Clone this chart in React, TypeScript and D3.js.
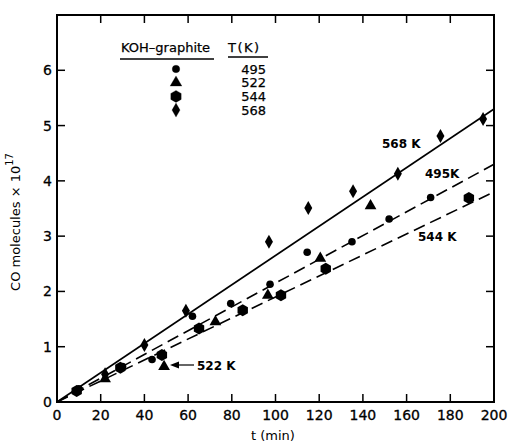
import * as d3 from "d3";
import React, { useRef, useEffect } from "react";

// 495 K (small dots)
const t495 = [10, 30, 43.5, 62, 79.5, 97.5, 114.5, 135, 152, 171];
const v495 = [0.24, 0.64, 0.77, 1.55, 1.78, 2.13, 2.71, 2.9, 3.31, 3.7];
// 522 K (triangles)
const t522 = [22, 49, 72.5, 96.5, 120.5, 143.5];
const v522 = [0.42, 0.64, 1.45, 1.93, 2.6, 3.55];
// 544 K (large hexagons)
const t544 = [9, 29, 48, 65, 85, 102.5, 123, 188.5];
const v544 = [0.2, 0.62, 0.85, 1.33, 1.66, 1.93, 2.41, 3.69];
// 568 K (diamonds)
const t568 = [22, 40, 59, 97, 115, 135.5, 156, 175.5, 195];
const v568 = [0.5, 1.03, 1.65, 2.9, 3.51, 3.81, 4.13, 4.81, 5.12];

// fitted lines: value at t = 200
const fitTemps = ["568", "495", "544"];
const fitEnd = [5.3, 4.3, 3.8];

const xTicks = [0, 20, 40, 60, 80, 100, 120, 140, 160, 180, 200];
const yTicks = [0, 1, 2, 3, 4, 5, 6];
const legendTemps = ["495", "522", "544", "568"];

const FONT = "'DejaVu Sans', sans-serif";

const App = () => {
    const ref = useRef<HTMLDivElement>(null);

    useEffect(() => {
        const width = 508;
        const height = 445;
        const left = 57, right = 494, top = 15, bottom = 402;

        const x = d3.scaleLinear().domain([0, 200]).range([left, right]);
        const y = d3.scaleLinear().domain([0, 7]).range([bottom, top]);

        const svg = d3.create("svg")
            .attr("width", width)
            .attr("height", height)
            .attr("viewBox", `0 0 ${width} ${height}`)
            .style("position", "absolute")
            .style("left", "0px")
            .style("top", "0px")
            .style("background", "#fff");

        // frame
        svg.append("rect")
            .attr("x", left).attr("y", top)
            .attr("width", right - left).attr("height", bottom - top)
            .attr("fill", "none").attr("stroke", "#000").attr("stroke-width", 2);

        // inward ticks, all four sides
        const tickLen = 8;
        const tk = svg.append("g").attr("stroke", "#000").attr("stroke-width", 1.5);
        xTicks.slice(1, -1).forEach(t => {
            tk.append("line").attr("x1", x(t)).attr("x2", x(t)).attr("y1", bottom).attr("y2", bottom - tickLen);
            tk.append("line").attr("x1", x(t)).attr("x2", x(t)).attr("y1", top).attr("y2", top + tickLen);
        });
        yTicks.slice(1).forEach(v => {
            tk.append("line").attr("x1", left).attr("x2", left + tickLen).attr("y1", y(v)).attr("y2", y(v));
            tk.append("line").attr("x1", right).attr("x2", right - tickLen).attr("y1", y(v)).attr("y2", y(v));
        });

        // tick labels
        svg.append("g")
            .attr("font-family", FONT).attr("font-size", 14).attr("text-anchor", "middle")
            .attr("stroke", "#000").attr("stroke-width", 0.3)
            .selectAll("text").data(xTicks).join("text")
            .attr("x", d => x(d)).attr("y", bottom + 18)
            .text(d => d);
        svg.append("g")
            .attr("font-family", FONT).attr("font-size", 14).attr("text-anchor", "end")
            .attr("stroke", "#000").attr("stroke-width", 0.3)
            .selectAll("text").data(yTicks).join("text")
            .attr("x", left - 5).attr("y", d => y(d)).attr("dy", "0.36em")
            .text(d => d);

        // axis titles
        svg.append("text")
            .attr("font-family", FONT).attr("font-size", 13).attr("text-anchor", "middle")
            .attr("x", 273).attr("y", 440)
            .text("t (min)");
        const yl = svg.append("text")
            .attr("font-family", FONT).attr("font-size", 13).attr("text-anchor", "middle")
            .attr("transform", "translate(20,222) rotate(-90)");
        yl.append("tspan").text("CO molecules \u00d7 10");
        yl.append("tspan").attr("font-size", 10).attr("dy", -7).text("17");

        // fitted lines
        const line = d3.line<[number, number]>().x(d => x(d[0])).y(d => y(d[1]));
        fitTemps.forEach((temp, i) => {
            svg.append("path")
                .attr("d", line([[0, 0], [200, fitEnd[i]]]))
                .attr("fill", "none").attr("stroke", "#000").attr("stroke-width", 1.6)
                .attr("stroke-dasharray", temp === "568" ? null : "12,6");
        });

        // markers
        const sym = {
            "495": d3.symbol(d3.symbolCircle, 45)(),
            "522": d3.symbol(d3.symbolTriangle, 60)(),
            "544": "M0,-6 L5.2,-3 L5.2,3 L0,6 L-5.2,3 L-5.2,-3 Z",
            "568": "M0,-7 L4,0 L0,7 L-4,0 Z",
        } as Record<string, string>;

        const series: [string, number[], number[]][] = [
            ["495", t495, v495], ["522", t522, v522], ["544", t544, v544], ["568", t568, v568],
        ];
        series.forEach(([temp, ts, vs]) => {
            svg.append("g")
                .selectAll("path").data(ts).join("path")
                .attr("d", sym[temp])
                .attr("transform", (d, i) => `translate(${x(d)},${y(vs[i])})`)
                .attr("fill", "#000");
        });

        // line labels
        const lab = svg.append("g").attr("font-family", FONT).attr("font-size", 12).attr("font-weight", "bold");
        lab.append("text").attr("x", 382).attr("y", 148).text("568 K");
        lab.append("text").attr("x", 425).attr("y", 178).text("495K");
        lab.append("text").attr("x", 418).attr("y", 241).text("544 K");
        lab.append("text").attr("x", 197).attr("y", 370).text("522 K");
        // arrow to the 522 K triangle
        svg.append("line")
            .attr("x1", 194).attr("x2", 176).attr("y1", 365).attr("y2", 365)
            .attr("stroke", "#000").attr("stroke-width", 1.2);
        svg.append("path")
            .attr("d", "M170,365 L179,361.5 L179,368.5 Z")
            .attr("fill", "#000");

        // legend
        const lg = svg.append("g").attr("font-family", FONT).attr("font-size", 13)
            .attr("stroke", "#000").attr("stroke-width", 0.25);
        lg.append("text").attr("x", 121).attr("y", 52).text("KOH\u2013graphite");
        lg.append("text").attr("x", 228).attr("y", 52).attr("letter-spacing", 1.5).text("T(K)");
        lg.append("line").attr("x1", 120).attr("x2", 214).attr("y1", 59).attr("y2", 59)
            .attr("stroke", "#000").attr("stroke-width", 1.3);
        lg.append("line").attr("x1", 228).attr("x2", 268).attr("y1", 57).attr("y2", 57)
            .attr("stroke", "#000").attr("stroke-width", 1.3);
        legendTemps.forEach((temp, i) => {
            const yy = 69 + i * 13.7;
            lg.append("path").attr("d", sym[temp])
                .attr("transform", `translate(176,${yy})`).attr("fill", "#000");
            lg.append("text").attr("x", 266).attr("y", yy).attr("dy", "0.36em")
                .attr("text-anchor", "end").text(temp);
        });

        if (ref.current) {
            ref.current.innerHTML = "";
            ref.current.appendChild(svg.node()!);
        }
    }, []);

    return <div ref={ref}></div>;
};

export default App;
